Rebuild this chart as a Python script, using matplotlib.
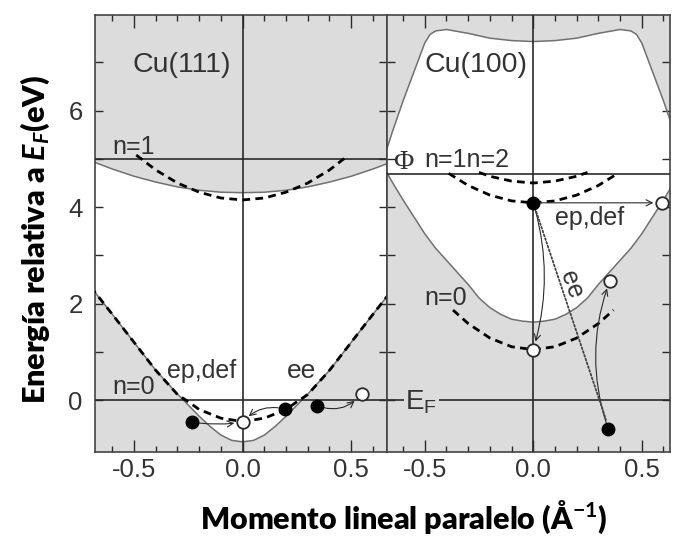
import matplotlib
matplotlib.use('Agg')
import matplotlib.pyplot as plt
import numpy as np
from matplotlib.ticker import FixedLocator, MultipleLocator

plt.rcParams['mathtext.fontset'] = 'custom'
plt.rcParams['mathtext.rm'] = 'Lato:bold'
plt.rcParams['mathtext.it'] = 'Lato:bold:italic'
plt.rcParams['mathtext.bf'] = 'Lato:bold'
plt.rcParams['mathtext.sf'] = 'Liberation Sans'
plt.rcParams['font.family'] = ['Liberation Sans', 'DejaVu Sans']

# ---------------- data: Cu(111) ----------------
k111_low = [-0.70, -0.60, -0.50, -0.40, -0.30, -0.20, -0.15, -0.10, -0.05, 0.00,
            0.05, 0.10, 0.15, 0.20, 0.30, 0.40, 0.50, 0.60, 0.70]
E111_low = [2.35, 1.78, 1.20, 0.62, 0.13, -0.33, -0.54, -0.72, -0.83, -0.86,
            -0.83, -0.72, -0.54, -0.33, 0.13, 0.62, 1.20, 1.78, 2.35]
k111_up = [-0.70, -0.60, -0.50, -0.40, -0.30, -0.20, -0.10, 0.00,
           0.10, 0.20, 0.30, 0.40, 0.50, 0.60, 0.70]
E111_up = [4.96, 4.79, 4.64, 4.52, 4.42, 4.35, 4.31, 4.30,
           4.31, 4.35, 4.42, 4.52, 4.64, 4.79, 4.96]
k111_n0 = [-0.70, -0.60, -0.50, -0.40, -0.30, -0.25, -0.20, -0.10, 0.00,
           0.10, 0.20, 0.25, 0.30, 0.40, 0.50, 0.60, 0.70]
E111_n0 = [2.35, 1.78, 1.20, 0.62, 0.12, -0.03, -0.19, -0.37, -0.44,
           -0.37, -0.19, -0.03, 0.12, 0.62, 1.20, 1.78, 2.35]
k111_n1 = [-0.49, -0.40, -0.30, -0.20, -0.10, 0.00, 0.10, 0.20, 0.30, 0.40, 0.48]
E111_n1 = [5.08, 4.77, 4.50, 4.31, 4.19, 4.15, 4.19, 4.31, 4.50, 4.77, 5.05]
phi111 = 5.0
k111_black = [-0.234, 0.195, 0.342]
E111_black = [-0.45, -0.18, -0.11]
k111_white = [0.0, 0.548]
E111_white = [-0.45, 0.13]

# ---------------- data: Cu(100) ----------------
k100_up = [-0.695, -0.675, -0.65, -0.60, -0.55, -0.50, -0.475, -0.45, -0.40, -0.30,
           -0.20, -0.10, 0.00, 0.10, 0.20, 0.30, 0.40, 0.45, 0.475, 0.50,
           0.55, 0.60, 0.65, 0.675, 0.695]
E100_up = [4.85, 5.20, 5.55, 6.20, 6.80, 7.40, 7.58, 7.65, 7.68, 7.60,
           7.50, 7.45, 7.43, 7.45, 7.50, 7.60, 7.68, 7.65, 7.58, 7.40,
           6.80, 6.20, 5.55, 5.20, 4.85]
k100_low = [-0.695, -0.675, -0.65, -0.60, -0.55, -0.50, -0.45, -0.40, -0.30, -0.25,
            -0.20, -0.15, -0.10, -0.05, 0.00, 0.05, 0.10, 0.15, 0.20, 0.25,
            0.30, 0.40, 0.45, 0.50, 0.55, 0.60, 0.65, 0.675, 0.695]
E100_low = [4.85, 4.72, 4.52, 4.15, 3.80, 3.45, 3.15, 2.90, 2.40, 2.12,
            1.92, 1.78, 1.68, 1.64, 1.62, 1.64, 1.68, 1.78, 1.92, 2.12,
            2.40, 2.90, 3.15, 3.45, 3.80, 4.15, 4.52, 4.72, 4.85]
k100_n0 = [-0.37, -0.30, -0.20, -0.10, 0.00, 0.10, 0.20, 0.30, 0.37]
E100_n0 = [1.87, 1.59, 1.29, 1.11, 1.05, 1.11, 1.29, 1.59, 1.87]
k100_n1 = [-0.39, -0.30, -0.20, -0.10, 0.00, 0.10, 0.20, 0.30, 0.39]
E100_n1 = [4.70, 4.45, 4.25, 4.13, 4.09, 4.13, 4.25, 4.45, 4.70]
k100_n2 = [-0.25, -0.20, -0.10, 0.00, 0.10, 0.20, 0.25]
E100_n2 = [4.72, 4.64, 4.54, 4.50, 4.54, 4.64, 4.72]
phi100 = 4.68
k100_black = [0.0, 0.346]
E100_black = [4.09, -0.60]
k100_white = [0.592, 0.0, 0.353]
E100_white = [4.09, 1.05, 2.48]

xticks = [-0.5, 0.0, 0.5]
xticklabels = ['-0.5', '0.0', '0.5']
yticks = [0, 2, 4, 6]
yticklabels = ['0', '2', '4', '6']

GRAY = '#dcdcdc'
EDGE = '#707070'
INK = '#2a2a2a'
TXT = '#333333'

fig = plt.figure(figsize=(6.73, 5.46), dpi=100)
bottom = 1 - 451.5 / 546
height = 436.5 / 546
ax1 = fig.add_axes([95 / 673, bottom, 292 / 673, height])
ax2 = fig.add_axes([387 / 673, bottom, 283 / 673, height])


def setup(ax, xlim, show_y):
    ax.set_facecolor(GRAY)
    ax.set_xlim(*xlim)
    ax.set_ylim(-1.06, 7.98)
    ax.xaxis.set_major_locator(FixedLocator(xticks))
    ax.xaxis.set_minor_locator(MultipleLocator(0.1))
    ax.set_xticklabels(xticklabels)
    ax.yaxis.set_major_locator(FixedLocator(yticks))
    ax.yaxis.set_minor_locator(FixedLocator([1, 3, 5, 7]))
    ax.set_yticklabels(yticklabels if show_y else [])
    ax.tick_params(which='both', direction='in', top=True, right=True,
                   width=1.0, color=INK, labelcolor=TXT)
    ax.tick_params(axis='x', which='major', length=9, pad=5, labelsize=18.5)
    ax.tick_params(axis='x', which='minor', length=4.5)
    ax.tick_params(axis='y', which='both', length=5.5, labelsize=18.5, pad=9)
    for s in ax.spines.values():
        s.set_color('#444444')
        s.set_linewidth(1.2)


setup(ax1, (-0.68, 0.665), True)
setup(ax2, (-0.674, 0.63), False)

dash = (0, (2.8, 1.9))

# ---- Cu(111) ----
ax1.fill(np.r_[k111_low, k111_up[::-1]], np.r_[E111_low, E111_up[::-1]],
         color='white', lw=0, zorder=1)
ax1.plot(k111_low, E111_low, color=EDGE, lw=1.1, zorder=2)
ax1.plot(k111_up, E111_up, color=EDGE, lw=1.1, zorder=2)
ax1.axvline(0, color=INK, lw=1.2, zorder=3)
ax1.axhline(0, color=INK, lw=1.2, zorder=3)
ax1.axhline(phi111, color=INK, lw=1.2, zorder=3)
ax1.plot(k111_n0, E111_n0, color='black', lw=2.0, ls=dash, zorder=4)
ax1.plot(k111_n1, E111_n1, color='black', lw=2.0, ls=dash, zorder=4)

arrow_kw = dict(arrowstyle='->', color=INK, lw=0.8, mutation_scale=11)
ax1.annotate('', xy=(k111_white[0], E111_white[0]), xytext=(k111_black[0], E111_black[0]),
             arrowprops=dict(**arrow_kw, connectionstyle='arc3,rad=0.08', shrinkA=5, shrinkB=6), zorder=5)
ax1.annotate('', xy=(k111_white[0], E111_white[0]), xytext=(k111_black[1], E111_black[1]),
             arrowprops=dict(**arrow_kw, connectionstyle='arc3,rad=0.3', shrinkA=5, shrinkB=6), zorder=5)
ax1.annotate('', xy=(k111_white[1], E111_white[1]), xytext=(k111_black[2], E111_black[2]),
             arrowprops=dict(**arrow_kw, connectionstyle='arc3,rad=0.35', shrinkA=5, shrinkB=7), zorder=5)

ax1.plot(k111_black, E111_black, 'o', ms=9, mfc='black', mec='black', zorder=6)
ax1.plot(k111_white, E111_white, 'o', ms=9, mfc='white', mec=INK, mew=1.3, zorder=6)

ax1.text(-0.505, 6.95, 'Cu(111)', fontsize=20.5, color=TXT, va='center', ha='left')
ax1.text(-0.60, 5.25, 'n=1', fontsize=18, color=TXT, va='center', ha='left')
ax1.text(-0.60, 0.28, 'n=0', fontsize=18, color=TXT, va='center', ha='left')
ax1.text(-0.35, 0.60, 'ep,def', fontsize=18, color=TXT, va='center', ha='left')
ax1.text(0.205, 0.60, 'ee', fontsize=19, color=TXT, va='center', ha='left')

# ---- Cu(100) ----
ax2.fill(np.r_[k100_low, k100_up[::-1]], np.r_[E100_low, E100_up[::-1]],
         color='white', lw=0, zorder=1)
ax2.plot(k100_low, E100_low, color=EDGE, lw=1.1, zorder=2)
ax2.plot(k100_up, E100_up, color=EDGE, lw=1.1, zorder=2)
ax2.axvline(0, color=INK, lw=1.2, zorder=3)
ax2.axhline(0, color=INK, lw=1.2, zorder=3)
ax2.axhline(phi100, color=INK, lw=1.2, zorder=3)
ax2.plot(k100_n0, E100_n0, color='black', lw=2.0, ls=dash, zorder=4)
ax2.plot(k100_n1, E100_n1, color='black', lw=2.0, ls=dash, zorder=4)
ax2.plot(k100_n2, E100_n2, color='black', lw=2.0, ls=dash, zorder=4)

ax2.annotate('', xy=(k100_white[0], E100_white[0]), xytext=(k100_black[0], E100_black[0]),
             arrowprops=dict(**arrow_kw, connectionstyle='arc3,rad=0', shrinkA=5, shrinkB=6), zorder=5)
ax2.annotate('', xy=(k100_white[1], E100_white[1]), xytext=(k100_black[0], E100_black[0]),
             arrowprops=dict(**arrow_kw, connectionstyle='arc3,rad=-0.15', shrinkA=5, shrinkB=6), zorder=5)
ax2.annotate('', xy=(k100_white[2], E100_white[2]), xytext=(k100_black[1], E100_black[1]),
             arrowprops=dict(**arrow_kw, connectionstyle='arc3,rad=-0.18', shrinkA=5, shrinkB=6), zorder=5)
ax2.annotate('', xy=(0.335, -0.40), xytext=(k100_black[0], E100_black[0]),
             arrowprops=dict(arrowstyle='-', color='#444444', lw=1.3, ls=(0, (1, 1.2)),
                             shrinkA=4, shrinkB=0), zorder=5)

ax2.plot(k100_black, E100_black, 'o', ms=9, mfc='black', mec='black', zorder=6)
ax2.plot(k100_white, E100_white, 'o', ms=9, mfc='white', mec=INK, mew=1.3, zorder=6)

ax2.text(-0.50, 6.95, 'Cu(100)', fontsize=20.5, color=TXT, va='center', ha='left')
ax2.text(-0.60, 4.93, 'Φ', fontsize=20, color=TXT, va='center', ha='center',
         family='Liberation Serif')
ax2.text(-0.50, 4.98, 'n=1n=2', fontsize=18, color=TXT, va='center', ha='left')
ax2.text(0.10, 3.78, 'ep,def', fontsize=18, color=TXT, va='center', ha='left')
ax2.text(0.175, 2.40, 'ee', fontsize=18, color=TXT, va='center', ha='center',
         rotation=-70, rotation_mode='anchor')
ax2.text(-0.50, 2.12, 'n=0', fontsize=18, color=TXT, va='center', ha='left')
ax2.text(-0.59, -0.03, r'$\mathsf{E}_\mathsf{F}$', fontsize=20, color=TXT, va='center', ha='left',
         bbox=dict(facecolor=GRAY, edgecolor='none', pad=1.0), zorder=7)

fig.text(404 / 673, 1 - 517 / 546, r'Momento lineal paralelo (Å$^{\mathbf{-1}}$)',
         ha='center', va='center', fontsize=22, fontweight='heavy', family='Lato', color='black')
fig.text(35 / 673, 1 - 240 / 546, r'Energía relativa a $E_F$(eV)', rotation=90,
         ha='center', va='center', fontsize=22, fontweight='heavy', family='Lato', color='black')

fig.savefig('out.png', dpi=100)
